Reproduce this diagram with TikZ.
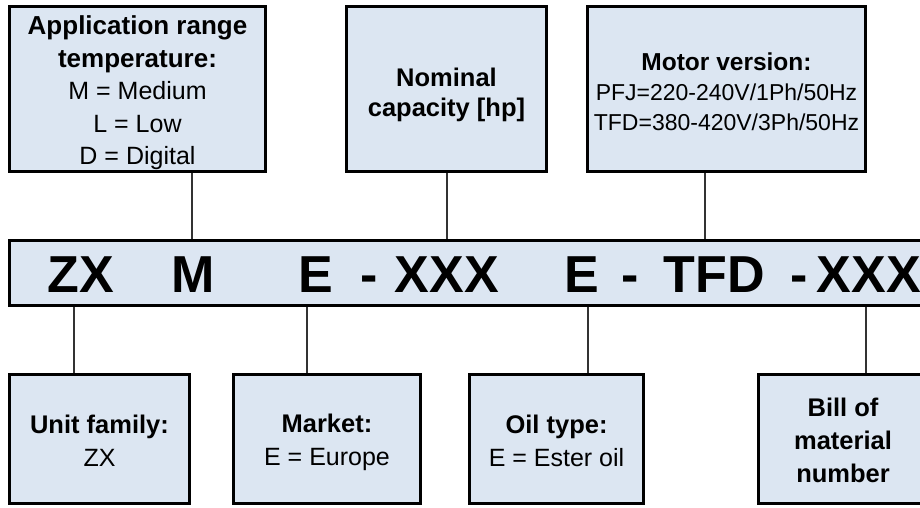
\documentclass[tikz,border=0pt]{standalone}
\usepackage{fontspec}
\setmainfont{Liberation Sans}
\definecolor{boxfill}{HTML}{DCE6F2}
\definecolor{linkgray}{HTML}{333333}
\tikzset{
  infobox/.style={draw=black, line width=3pt, fill=boxfill, inner sep=0pt},
  infotext/.style={inner sep=0pt, align=center, text=black,
    font=\fontsize{25}{33}\selectfont},
  codebar/.style={draw=black, line width=3pt, fill=boxfill, inner sep=0pt},
  codetok/.style={anchor=base, inner sep=0pt, font=\fontsize{52}{60}\selectfont\bfseries},
  link/.style={draw=linkgray, line width=1.3pt}
}
\newcommand{\hd}[1]{{\fontsize{25.5}{33}\selectfont\bfseries #1}}
\newcommand{\hdA}[1]{{\fontsize{26}{32.5}\selectfont\bfseries #1}}
\newcommand{\hdM}[1]{{\fontsize{24.5}{30}\selectfont\bfseries #1}}
\begin{document}
\begin{tikzpicture}[x=1pt,y=-1pt]
\useasboundingbox (0,0) rectangle (920,507);
% top boxes
\node[infobox, minimum width=256pt, minimum height=165pt] (t1) at (137.5,89) {};
\node[infobox, minimum width=200pt, minimum height=165pt] (t2) at (446.5,89) {};
\node[infobox, minimum width=278pt, minimum height=165pt] (t3) at (726.5,89) {};
\node[infotext, font=\fontsize{25}{32.5}\selectfont] (t1text) at (137.5,93)
  {\hdA{Application range}\\ \hdA{temperature:}\\ M = Medium\\ L = Low\\ D = Digital};
\node[infotext, font=\fontsize{25}{30.5}\selectfont] (t2text) at (446.5,95)
  {\hd{Nominal}\\ \hd{capacity [hp]}};
\node[infotext, font=\fontsize{23}{30}\selectfont] (t3text) at (726.5,92)
  {\hdM{Motor version:}\\ PFJ=220-240V/1Ph/50Hz\\ TFD=380-420V/3Ph/50Hz};
% code bar
\node[codebar, minimum width=940pt, minimum height=65pt] (bar) at (479.5,273) {};
\node[codetok] (k1) at (80.5,292) {ZX};
\node[codetok] (k2) at (193.5,292) {M};
\node[codetok] (k3) at (316,292) {E};
\node[codetok] (k4) at (369.5,292) {-};
\node[codetok] (k5) at (447,292) {XXX};
\node[codetok] (k6) at (582,292) {E};
\node[codetok] (k7) at (630.5,292) {-};
\node[codetok] (k8) at (714,292) {TFD};
\node[codetok] (k9) at (799.5,292) {-};
\node[codetok] (k10) at (869,292) {XXX};
% bottom boxes
\node[infobox, minimum width=180pt, minimum height=129pt] (b1) at (99.5,439) {};
\node[infobox, minimum width=187pt, minimum height=129pt] (b2) at (327,439) {};
\node[infobox, minimum width=174pt, minimum height=129pt] (b3) at (556.5,439) {};
\node[infobox, minimum width=169pt, minimum height=129pt] (b4) at (843,439) {};
\node[infotext] (b1text) at (99.5,441) {\hd{Unit family:}\\ ZX};
\node[infotext] (b2text) at (327,442) {\hd{Market:}\\ E = Europe};
\node[infotext] (b3text) at (556.5,441) {\hd{Oil type:}\\ E = Ester oil};
\node[infotext] (b4text) at (843,440) {\hd{Bill of}\\ \hd{material}\\ \hd{number}};
% connector columns
\coordinate (c1) at (192,0);
\coordinate (c2) at (447,0);
\coordinate (c3) at (705,0);
\coordinate (d1) at (74,0);
\coordinate (d2) at (307,0);
\coordinate (d3) at (588,0);
\coordinate (d4) at (866,0);
\draw[link] (t1.south -| c1) -- (bar.north -| c1);
\draw[link] (t2.south -| c2) -- (bar.north -| c2);
\draw[link] (t3.south -| c3) -- (bar.north -| c3);
\draw[link] (bar.south -| d1) -- (b1.north -| d1);
\draw[link] (bar.south -| d2) -- (b2.north -| d2);
\draw[link] (bar.south -| d3) -- (b3.north -| d3);
\draw[link] (bar.south -| d4) -- (b4.north -| d4);
\end{tikzpicture}
\end{document}
